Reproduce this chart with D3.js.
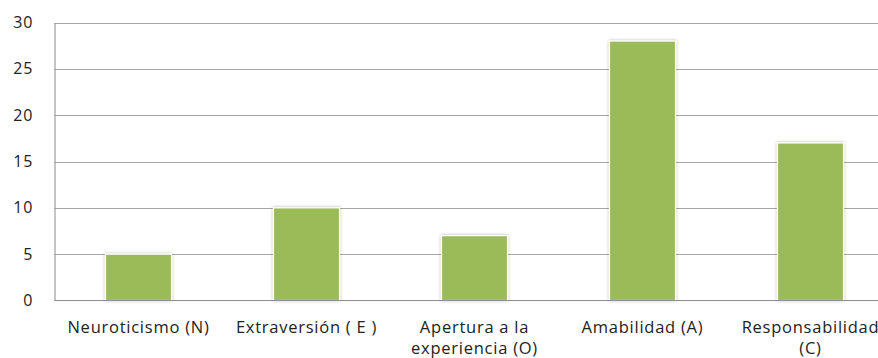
<!DOCTYPE html>
<html>
<head>
<meta charset="utf-8">
<script src="https://cdn.jsdelivr.net/npm/d3@7"></script>
<style>
  html, body { margin: 0; padding: 0; background: #fff; }
  svg { display: block; }
  text { font-family: "Open Sans", "DejaVu Sans", sans-serif; fill: #222; }
</style>
</head>
<body>
<svg id="chart" width="878" height="358"></svg>
<script>
// Big Five personality factors
const categories = [
  ["Neuroticismo (N)"],
  ["Extraversión ( E )"],
  ["Apertura a la", "experiencia (O)"],
  ["Amabilidad (A)"],
  ["Responsabilidad", "(C)"]
];
const values = [5, 10, 7, 28, 17];
const yTicks = [0, 5, 10, 15, 20, 25, 30];

const svg = d3.select("#chart");
const margin = { left: 54.5, top: 22.5, bottom: 300.5 };
const plotRight = 54.5 + 840;

const defs = svg.append("defs");
const f = defs.append("filter").attr("id", "shadow")
  .attr("x", "-20%").attr("y", "-20%").attr("width", "140%").attr("height", "140%");
f.append("feDropShadow").attr("dx", 0).attr("dy", 0).attr("stdDeviation", 1.6)
  .attr("flood-color", "#000").attr("flood-opacity", 0.35);

const x = d3.scaleBand()
  .domain(d3.range(categories.length))
  .range([margin.left, plotRight])
  .paddingInner(0.607).paddingOuter(0.3035);

const y = d3.scaleLinear().domain([0, 30]).range([margin.bottom, margin.top]);

// horizontal gridlines
svg.append("g")
  .selectAll("line").data(yTicks.filter(d => d > 0)).join("line")
  .attr("x1", margin.left).attr("x2", plotRight)
  .attr("y1", d => Math.round(y(d)) + 0.5).attr("y2", d => Math.round(y(d)) + 0.5)
  .attr("stroke", "#a6a6a6").attr("stroke-width", 1);

// y axis
const yAxis = svg.append("g")
  .attr("transform", `translate(${margin.left},0)`)
  .call(d3.axisLeft(y).tickValues(yTicks).tickSize(0).tickPadding(21));
yAxis.select(".domain").attr("stroke", "#8c8c8c");
yAxis.selectAll("text")
  .style("font-size", "16px").style("letter-spacing", "1px")
  .attr("fill", "#222");

// bars
svg.append("g")
  .selectAll("rect").data(values).join("rect")
  .attr("x", (d, i) => x(i))
  .attr("y", d => y(d))
  .attr("width", x.bandwidth())
  .attr("height", d => y(0) - y(d))
  .attr("fill", "#9bbb59")
  .attr("stroke", "#ffffff").attr("stroke-width", 1.2)
  .attr("filter", "url(#shadow)");

// x axis baseline
svg.append("line")
  .attr("x1", margin.left).attr("x2", plotRight)
  .attr("y1", margin.bottom).attr("y2", margin.bottom)
  .attr("stroke", "#8c8c8c");

// category labels
const labels = svg.append("g");
categories.forEach((lines, i) => {
  const cx = x(i) + x.bandwidth() / 2;
  const t = labels.append("text")
    .attr("x", cx)
    .attr("y", 333)
    .attr("text-anchor", "middle")
    .style("font-size", "16.5px")
    .style("letter-spacing", "0.75px");
  lines.forEach((ln, j) => {
    t.append("tspan")
      .attr("x", cx)
      .attr("dy", j === 0 ? 0 : 21)
      .text(ln);
  });
});
</script>
</body>
</html>
